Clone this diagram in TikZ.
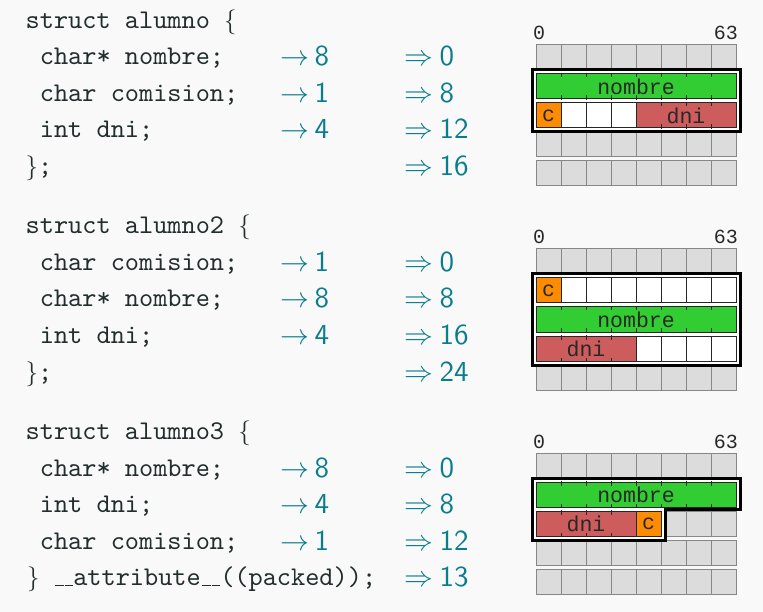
\documentclass[tikz,border=0pt]{standalone}
\usepackage{fontspec}
\setsansfont{lmsans10-regular}[Extension=.otf]
\setmonofont{lmmono10-regular}[Extension=.otf]
\newfontfamily\courfont{Liberation Mono}
\definecolor{bg}{RGB}{249,249,249}
\definecolor{codetxt}{RGB}{35,45,45}
\definecolor{tealnum}{RGB}{10,125,140}
\definecolor{cgreen}{RGB}{50,205,50}
\definecolor{cred}{RGB}{205,92,92}
\definecolor{corange}{RGB}{255,140,0}
\definecolor{cgray}{RGB}{220,220,220}
\definecolor{cgrayline}{RGB}{135,135,135}
\definecolor{celltxt}{RGB}{40,40,40}
\newcommand\rarr{\scalebox{1.16}{$\rightarrow$}\hspace{5pt}}
\newcommand\Rarr{\scalebox{1.16}{$\Rightarrow$}\hspace{6.5pt}}
\newcommand\usc{\leavevmode\kern.06em\vbox{\hrule width.3em height 1pt}}
\tikzset{
  code/.style={anchor=base west, inner sep=0pt, text=codetxt, font=\fontsize{27}{30}\selectfont\ttfamily},
  num/.style={anchor=base west, inner sep=0pt, text=tealnum, font=\fontsize{29}{30}\selectfont\sffamily},
  lbl/.style={inner sep=0pt, text=celltxt, font=\fontsize{20}{20}\selectfont\courfont},
  graycell/.style={draw=cgrayline, fill=cgray, line width=1pt},
  memcell/.style={draw=black!85, line width=1pt},
  celltext/.style={inner sep=0pt, text=celltxt, font=\fontsize{21.5}{21.5}\selectfont\courfont},
  boxline/.style={draw=black, line width=3pt, fill=white},
}
\newcommand\memgrid[2]{%
  \foreach \r in {0,...,4}{\foreach \c in {0,...,7}{
    \draw[graycell] ({536+25*\c},{#2+29*\r}) rectangle ++(25,25);}}
  \node[lbl, anchor=base west] (#1zero) at (533,{#2-5}) {0};
  \node[lbl, anchor=base east] (#1top) at (738,{#2-5}) {63};
}
\newcommand\fld[6]{%
  \draw[memcell, fill=#5] ({536+25*#2},#4) rectangle ++({25*#3},25);
  \node[celltext] (#1) at ({536+25*#2+12.5*#3},{#4+12.5}) {#6};
  \pgfmathtruncatemacro\nk{#3-1}%
  \ifnum\nk>0
    \foreach \k in {1,...,\nk}{
      \draw[memcell] ({536+25*(#2+\k)},{#4-1}) -- ++(0,4.5);
      \draw[memcell] ({536+25*(#2+\k)},{#4+26}) -- ++(0,-4.5);}
  \fi
}
\begin{document}
\begin{tikzpicture}[x=1pt,y=-1pt]
\useasboundingbox[fill=bg] (0,0) rectangle (763,612);

% ---------- block 1 ----------
\node[code] (a0) at (25.5,28.5) {struct alumno $\{$};
\node[code] (a1) at (39.7,65) {char* nombre;};
\node[code] (a2) at (39.7,101.5) {char comision;};
\node[code] (a3) at (39.7,138) {int dni;};
\node[code] (a4) at (25.5,174.5) {$\}$;};
\node[num] (a1s) at (280.5,66) {\rarr 8};
\node[num] (a2s) at (280.5,102.5) {\rarr 1};
\node[num] (a3s) at (280.5,139) {\rarr 4};
\node[num] (a1o) at (404,66) {\Rarr 0};
\node[num] (a2o) at (404,102.5) {\Rarr 8};
\node[num] (a3o) at (404,139) {\Rarr 12};
\node[num] (a4o) at (404,175.5) {\Rarr 16};

\memgrid{ga}{45}
\draw[boxline] (532,70) rectangle (740,132);
\fld{ganom}{0}{8}{74}{cgreen}{nombre}
\fld{gac}{0}{1}{103}{corange}{c}
\fld{gap1}{1}{1}{103}{white}{}
\fld{gap2}{2}{1}{103}{white}{}
\fld{gap3}{3}{1}{103}{white}{}
\fld{gadni}{4}{4}{103}{cred}{dni}

% ---------- block 2 ----------
\node[code] (b0) at (25.5,234) {struct alumno2 $\{$};
\node[code] (b1) at (39.7,270.5) {char comision;};
\node[code] (b2) at (39.7,307) {char* nombre;};
\node[code] (b3) at (39.7,343.5) {int dni;};
\node[code] (b4) at (25.5,380) {$\}$;};
\node[num] (b1s) at (280.5,271.5) {\rarr 1};
\node[num] (b2s) at (280.5,308) {\rarr 8};
\node[num] (b3s) at (280.5,344.5) {\rarr 4};
\node[num] (b1o) at (404,271.5) {\Rarr 0};
\node[num] (b2o) at (404,308) {\Rarr 8};
\node[num] (b3o) at (404,344.5) {\Rarr 16};
\node[num] (b4o) at (404,381) {\Rarr 24};

\memgrid{gb}{249}
\draw[boxline] (532,274) rectangle (740,365);
\fld{gbc}{0}{1}{278}{corange}{c}
\foreach \i in {1,...,7}{\fld{gbp\i}{\i}{1}{278}{white}{}}
\fld{gbnom}{0}{8}{307}{cgreen}{nombre}
\fld{gbdni}{0}{4}{336}{cred}{dni}
\foreach \i in {4,...,7}{\fld{gbq\i}{\i}{1}{336}{white}{}}

% ---------- block 3 ----------
\node[code] (c0) at (25.5,439.5) {struct alumno3 $\{$};
\node[code] (c1) at (39.7,476) {char* nombre;};
\node[code] (c2) at (39.7,512.5) {int dni;};
\node[code] (c3) at (39.7,549) {char comision;};
\node[code] (c4) at (27,585.5) {$\}$ \usc\usc attribute\usc\usc((packed));};
\node[num] (c1s) at (280.5,477) {\rarr 8};
\node[num] (c2s) at (280.5,513.5) {\rarr 4};
\node[num] (c3s) at (280.5,550) {\rarr 1};
\node[num] (c1o) at (404,477) {\Rarr 0};
\node[num] (c2o) at (404,513.5) {\Rarr 8};
\node[num] (c3o) at (404,550) {\Rarr 12};
\node[num] (c4o) at (404,586.5) {\Rarr 13};

\memgrid{gc}{453}
\draw[boxline] (532,478) -- (740,478) -- (740,509.5) -- (665,509.5) -- (665,540) -- (532,540) -- cycle;
\fld{gcnom}{0}{8}{482}{cgreen}{nombre}
\fld{gcdni}{0}{4}{511}{cred}{dni}
\fld{gcc}{4}{1}{511}{corange}{c}
\end{tikzpicture}
\end{document}
